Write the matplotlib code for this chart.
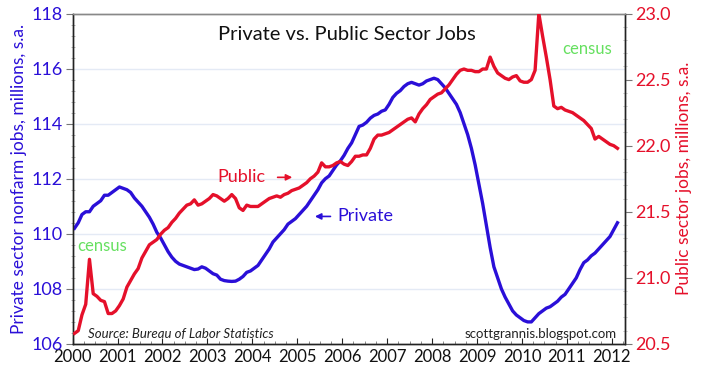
#!/usr/bin/env python3
"""Private vs. public sector jobs, 2000-2012 (dual axis)."""

import matplotlib

matplotlib.use("Agg")
import matplotlib.pyplot as plt
import numpy as np
from matplotlib.ticker import MultipleLocator

plt.rcParams["font.family"] = ["Lato", "DejaVu Sans"]

BLUE = "#2a0fd8"
RED = "#e5102a"
GREEN = "#66e060"

# monthly, Jan 2000 .. Feb 2012 (millions, s.a.)
START_YEAR = 2000
private_jobs = [
    110.2, 110.4, 110.7, 110.8, 110.8, 111.0, 111.1, 111.2, 111.4, 111.4, 111.5, 111.6,  # 2000
    111.7, 111.65, 111.6, 111.5, 111.3, 111.15, 111.0, 110.8, 110.6, 110.35, 110.05, 109.85,  # 2001
    109.6, 109.35, 109.15, 109.0, 108.9, 108.85, 108.8, 108.75, 108.7, 108.72, 108.8, 108.75,  # 2002
    108.65, 108.55, 108.5, 108.35, 108.3, 108.28, 108.27, 108.28, 108.35, 108.45, 108.6, 108.65,  # 2003
    108.75, 108.85, 109.05, 109.25, 109.45, 109.7, 109.85, 110.0, 110.15, 110.35, 110.45, 110.55,  # 2004
    110.7, 110.85, 111.0, 111.2, 111.4, 111.6, 111.85, 112.0, 112.1, 112.3, 112.5, 112.65,  # 2005
    112.85, 113.1, 113.3, 113.6, 113.9, 113.95, 114.05, 114.2, 114.3, 114.35, 114.45, 114.5,  # 2006
    114.7, 114.95, 115.1, 115.2, 115.35, 115.45, 115.5, 115.45, 115.4, 115.45, 115.55, 115.6,  # 2007
    115.65, 115.6, 115.45, 115.3, 115.1, 114.9, 114.7, 114.4, 114.0, 113.6, 113.1, 112.5,  # 2008
    111.8, 111.1, 110.3, 109.5, 108.8, 108.4, 108.0, 107.7, 107.45, 107.2, 107.05, 106.95,  # 2009
    106.85, 106.8, 106.8, 106.95, 107.1, 107.2, 107.3, 107.35, 107.45, 107.55, 107.7, 107.8,  # 2010
    108.0, 108.2, 108.4, 108.7, 108.95, 109.05, 109.2, 109.3, 109.45, 109.6, 109.75, 109.9,  # 2011
    110.15, 110.4,  # 2012
]
public_jobs = [
    20.58, 20.6, 20.72, 20.8, 21.14, 20.88, 20.86, 20.83, 20.82, 20.73, 20.73, 20.75,  # 2000
    20.79, 20.84, 20.93, 20.98, 21.03, 21.07, 21.15, 21.2, 21.25, 21.27, 21.29, 21.33,  # 2001
    21.36, 21.38, 21.42, 21.45, 21.49, 21.52, 21.55, 21.56, 21.59, 21.55, 21.56, 21.58,  # 2002
    21.6, 21.63, 21.62, 21.6, 21.58, 21.6, 21.63, 21.6, 21.53, 21.51, 21.55, 21.54,  # 2003
    21.54, 21.54, 21.56, 21.58, 21.6, 21.61, 21.62, 21.61, 21.63, 21.64, 21.66, 21.67,  # 2004
    21.68, 21.7, 21.72, 21.75, 21.77, 21.8, 21.87, 21.84, 21.84, 21.85, 21.87, 21.88,  # 2005
    21.86, 21.85, 21.88, 21.92, 21.92, 21.93, 21.93, 21.98, 22.05, 22.08, 22.08, 22.09,  # 2006
    22.1, 22.12, 22.14, 22.16, 22.18, 22.2, 22.21, 22.18, 22.24, 22.28, 22.31, 22.35,  # 2007
    22.37, 22.39, 22.4, 22.43, 22.46, 22.5, 22.54, 22.57, 22.58, 22.57, 22.57, 22.56,  # 2008
    22.56, 22.58, 22.58, 22.67, 22.6, 22.55, 22.53, 22.51, 22.5, 22.52, 22.53, 22.49,  # 2009
    22.48, 22.48, 22.5, 22.57, 23.0, 22.83, 22.67, 22.5, 22.3, 22.28, 22.29, 22.27,  # 2010
    22.26, 22.25, 22.23, 22.21, 22.19, 22.16, 22.13, 22.05, 22.07, 22.05, 22.03, 22.01,  # 2011
    22.0, 21.98,  # 2012
]
year_ticks = list(range(2000, 2013))


def main() -> None:
    t = START_YEAR + np.arange(len(private_jobs)) / 12.0 + 1 / 24.0

    fig = plt.figure(figsize=(7.05, 3.86), dpi=100)
    ax = fig.add_axes([0.103, 0.109, 0.784, 0.856])
    ax2 = ax.twinx()

    for y in [108, 110, 112, 114, 116]:
        ax.axhline(y, color="#e4eaf5", lw=1.0, zorder=0)

    ax.plot(t, private_jobs, color=BLUE, lw=2.4, zorder=3)
    ax2.plot(t, public_jobs, color=RED, lw=2.4, zorder=3)

    ax.set_xlim(2000, 2012.3)
    ax.set_ylim(106, 118)
    ax2.set_ylim(20.5, 23.0)

    ax.set_xticks(year_ticks)
    ax.set_xticklabels([str(y) for y in year_ticks])
    ax.xaxis.set_minor_locator(MultipleLocator(0.25))
    ax.yaxis.set_major_locator(MultipleLocator(2))
    ax.yaxis.set_minor_locator(MultipleLocator(0.4))
    ax2.yaxis.set_major_locator(MultipleLocator(0.5))
    ax2.yaxis.set_minor_locator(MultipleLocator(0.1))
    ax2.set_yticklabels([f"{v:.1f}" for v in ax2.get_yticks()])

    ax.tick_params(axis="x", labelsize=12, colors="#222222", length=4, direction="in",
                   pad=4, labelcolor="#111111")
    ax.tick_params(axis="x", which="minor", length=2.5, direction="in", color="#777777")
    ax.tick_params(axis="y", labelsize=13, length=5, color="#777777", labelcolor=BLUE, pad=2)
    ax.tick_params(axis="y", which="minor", length=2.5, direction="inout", color="#aaaaaa")
    ax2.tick_params(axis="y", labelsize=13, length=5, color="#777777", labelcolor=RED, pad=2)
    ax2.tick_params(axis="y", which="minor", length=2.5, direction="inout", color="#aaaaaa")

    for a in (ax, ax2):
        for s in a.spines.values():
            s.set_color("#222222")
            s.set_linewidth(1.0)
        a.spines["top"].set_color("#888888")

    ax.set_ylabel("Private sector nonfarm jobs, millions, s.a.", color=BLUE, fontsize=12.5, labelpad=3)
    ax2.set_ylabel("Public sector jobs, millions, s.a.", color=RED, fontsize=12.5, labelpad=4)

    ax.text(2006.1, 117.25, "Private vs. Public Sector Jobs", ha="center", va="center",
            fontsize=14.5, color="#111111")

    ax.annotate("", xy=(2004.95, 112.05), xytext=(2004.5, 112.05),
                arrowprops=dict(arrowstyle="-|>", color=RED, lw=1.2, mutation_scale=9))
    ax.text(2004.3, 112.07, "Public", ha="right", va="center", fontsize=13, color=RED)
    ax.annotate("", xy=(2005.33, 110.63), xytext=(2005.8, 110.63),
                arrowprops=dict(arrowstyle="-|>", color=BLUE, lw=1.2, mutation_scale=9))
    ax.text(2005.9, 110.63, "Private", ha="left", va="center", fontsize=13, color=BLUE)

    ax.text(2000.1, 109.55, "census", ha="left", va="center", fontsize=12, color=GREEN)
    ax.text(2010.9, 116.7, "census", ha="left", va="center", fontsize=12, color=GREEN)

    ax.text(2000.35, 106.35, "Source: Bureau of Labor Statistics", ha="left", va="center",
            fontsize=9.5, style="italic", color="#222222")
    ax.text(2012.1, 106.35, "scottgrannis.blogspot.com", ha="right", va="center",
            fontsize=9.5, color="#222222")

    fig.savefig("out.png", dpi=100)
    plt.close(fig)


if __name__ == "__main__":
    main()
